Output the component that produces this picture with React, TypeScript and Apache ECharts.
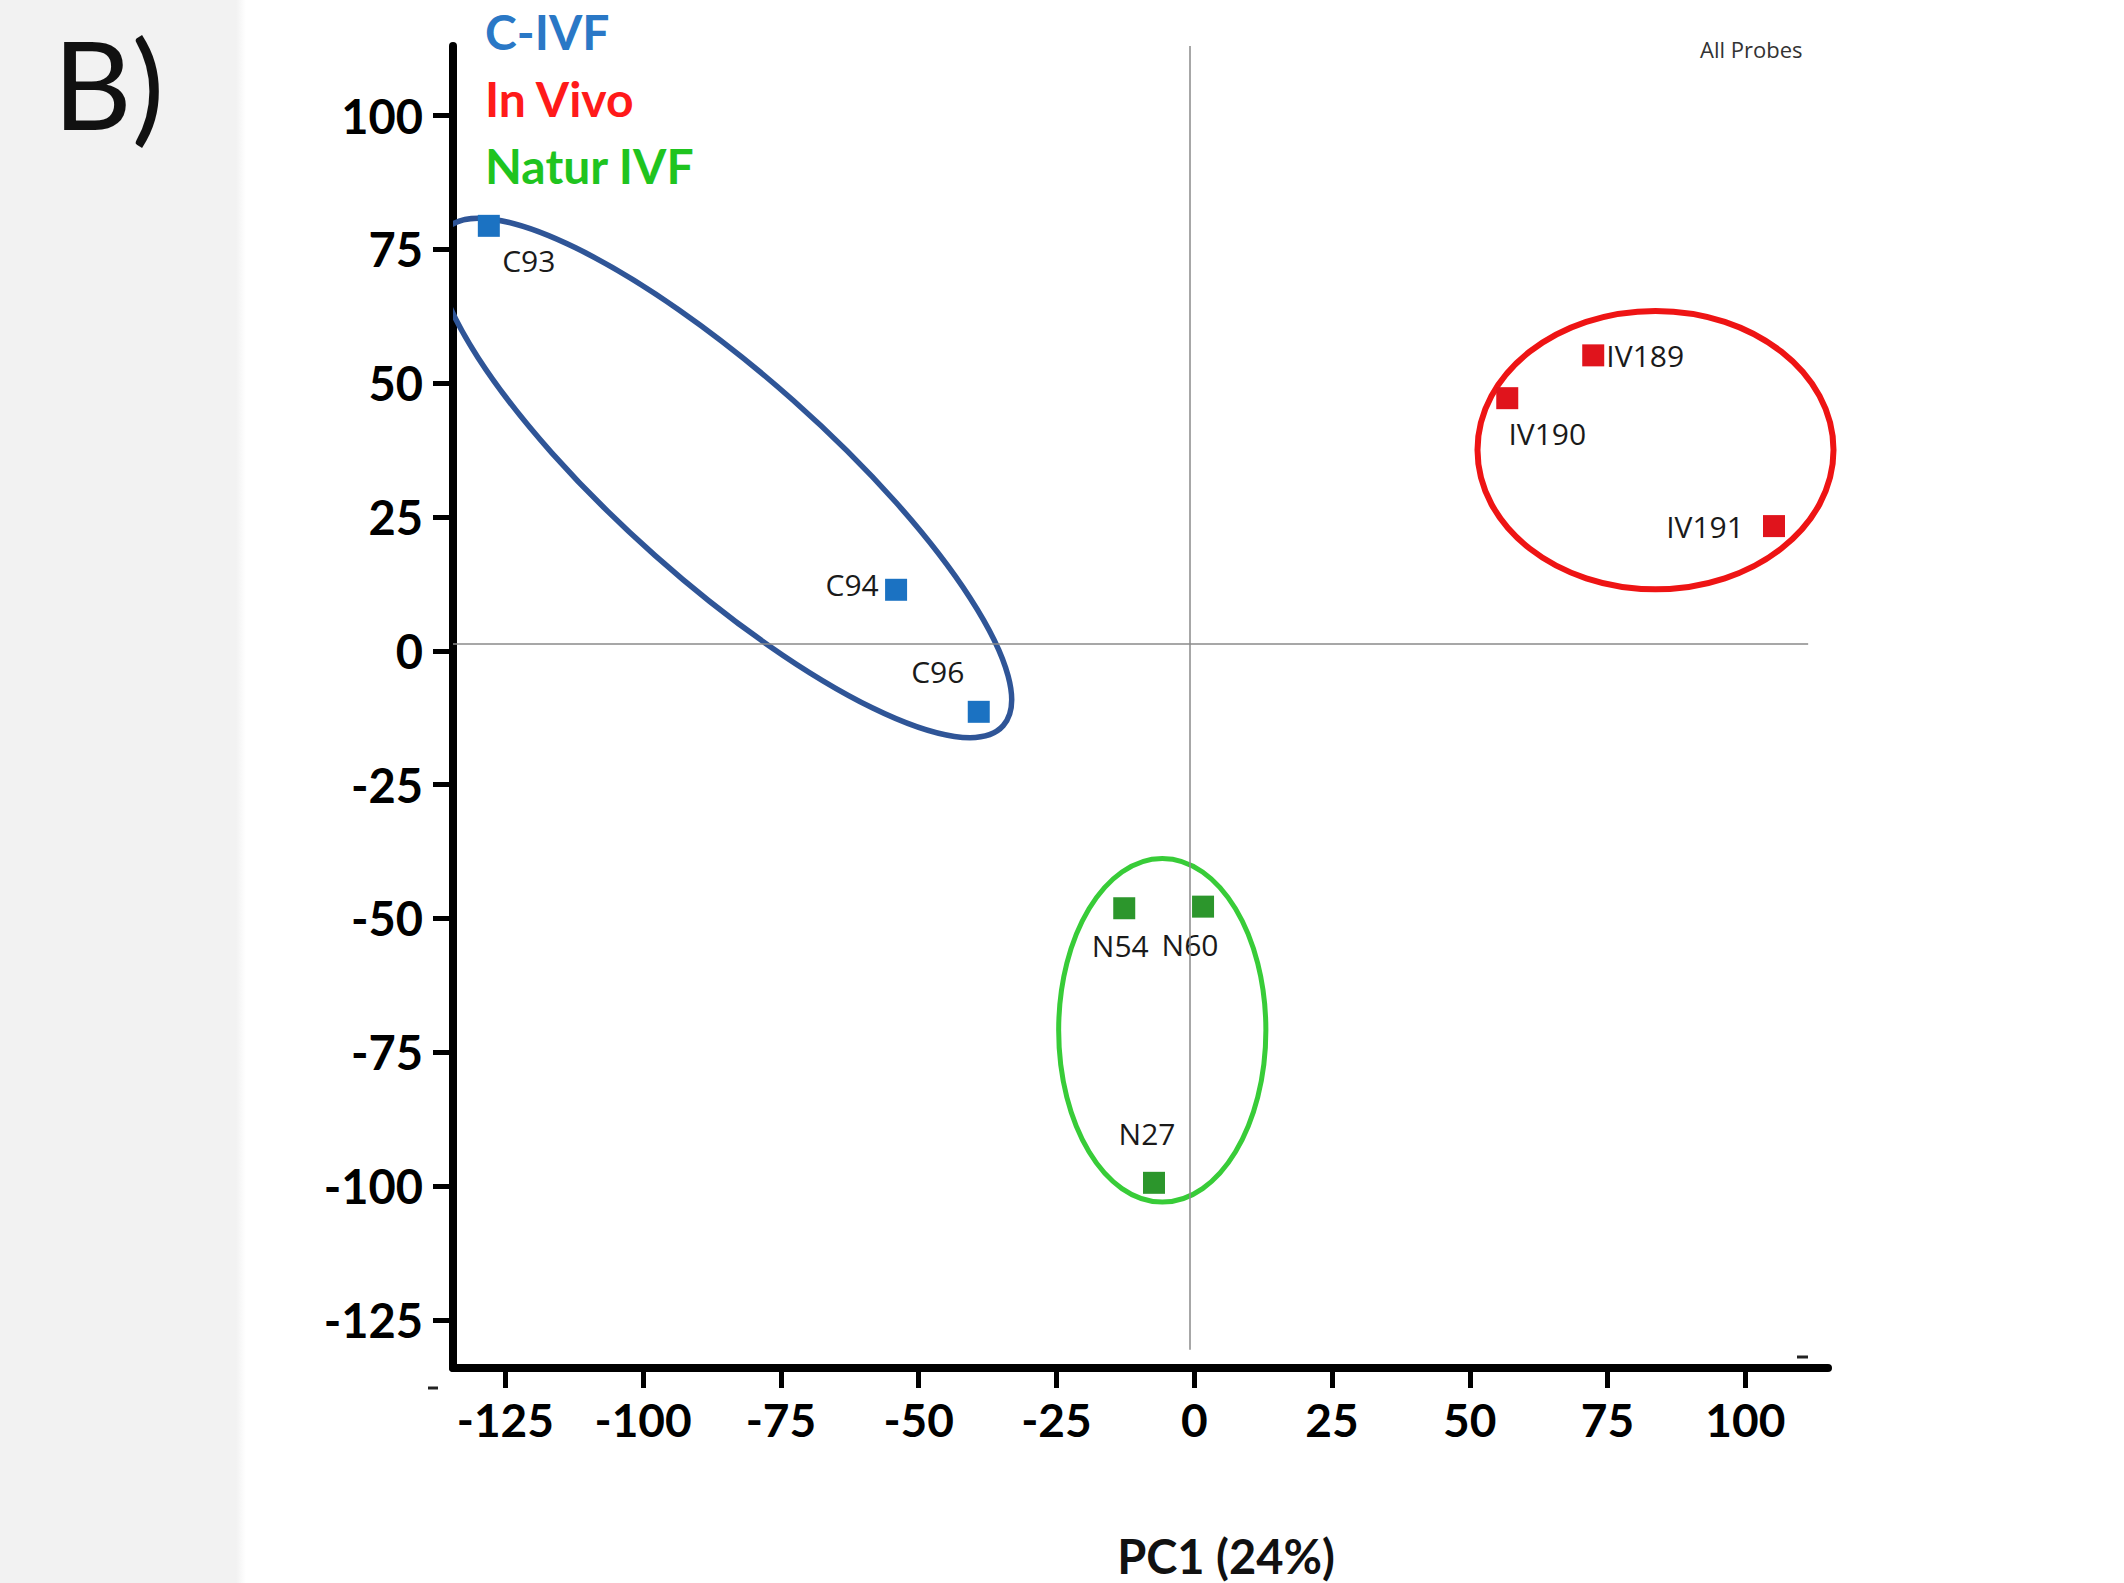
import React, { useEffect, useRef } from "react";
import * as echarts from "echarts";

// ---- data ----
const xTicks = [-125, -100, -75, -50, -25, 0, 25, 50, 75, 100];
const yTicks = [100, 75, 50, 25, 0, -25, -50, -75, -100, -125];

const civfNames = ["C93", "C94", "C96"];
const civfPC1 = [-128.0, -54.1, -39.1];
const civfPC2 = [79.4, 11.4, -11.4];

const inVivoNames = ["IV189", "IV190", "IV191"];
const inVivoPC1 = [72.4, 56.8, 105.2];
const inVivoPC2 = [55.2, 47.2, 23.3];

const naturNames = ["N54", "N60", "N27"];
const naturPC1 = [-12.7, 1.6, -7.3];
const naturPC2 = [-48.1, -47.8, -99.4];

// group ellipses (data units): centre, semi-axes, rotation (deg, counter-clockwise)
const ellipseCenterX = [-85.3, 83.7, -5.8];
const ellipseCenterY = [32.3, 37.5, -70.9];
const ellipseRadiusX = [67.7, 32.3, 18.8];
const ellipseRadiusY = [19.4, 26.0, 32.1];
const ellipseAngle = [-41.6, 0, 0];
const ellipseClipped = [true, false, false];

// origin reference lines as drawn in the figure
const originLineY = 1.3;
const originLineYExtent = [-134.5, 111.4];
const originLineX = -0.9;
const originLineXExtent = [-130.6, 113];

// ---- styles ----
const labelOffsets: Record<string, [number, number]> = {
  C93: [40, 35],
  C94: [-44, -5],
  C96: [-41, -40],
  IV189: [52, 0],
  IV190: [40, 35],
  IV191: [-69, 0],
  N54: [-4, 37],
  N60: [-13, 38],
  N27: [-7, -49],
};
const markerColors = ["#1b72c2", "#e0141c", "#2c962c"];
const legendColors = ["#2a78c6", "#ff1a1a", "#1fc41f"];
const ellipseColors = ["#2f5597", "#ee1414", "#38cc38"];
const ellipseWidths = [5.5, 6, 5];
const groupNames = ["C-IVF", "In Vivo", "Natur IVF"];

function makeSeries(idx: number, names: string[], xs: number[], ys: number[]) {
  return {
    type: "scatter",
    name: groupNames[idx],
    symbol: "rect",
    symbolSize: 22,
    z: 4,
    itemStyle: { color: markerColors[idx], opacity: 1 },
    label: {
      show: true,
      position: "inside",
      formatter: (p: any) => p.name,
      fontFamily: "Open Sans",
      fontSize: 30,
      color: "#1a1a1a",
      opacity: 1,
    },
    emphasis: { disabled: true },
    data: names.map((n, i) => ({
      name: n,
      value: [xs[i], ys[i]],
      label: { offset: labelOffsets[n] },
    })),
  };
}

function ellipseSeries(clip: boolean) {
  const rows: number[][] = [];
  ellipseCenterX.forEach((cx, i) => {
    if (ellipseClipped[i] === clip) {
      rows.push([cx, ellipseCenterY[i], ellipseRadiusX[i], ellipseRadiusY[i], ellipseAngle[i], i]);
    }
  });
  return {
    type: "custom",
    name: clip ? "ellipses-clipped" : "ellipses",
    z: 3,
    clip,
    silent: true,
    encode: { x: 0, y: 1 },
    data: rows,
    renderItem: (params: any, api: any) => {
      const i = api.value(5);
      const c = api.coord([api.value(0), api.value(1)]);
      const rx = api.size([api.value(2), 0])[0];
      const ry = api.size([0, api.value(3)])[1];
      return {
        type: "ellipse",
        x: c[0],
        y: c[1],
        rotation: (api.value(4) * Math.PI) / 180,
        shape: { cx: 0, cy: 0, rx, ry },
        style: { fill: "none", stroke: ellipseColors[i], lineWidth: ellipseWidths[i] },
      };
    },
  };
}

export default function App() {
  const ref = useRef<HTMLDivElement>(null);
  useEffect(() => {
    const chart = echarts.init(ref.current!, null, { renderer: "svg" });
    const option: any = {
      animation: false,
      backgroundColor: "transparent",
      title: {
        text: "All Probes",
        left: 1700,
        top: 38,
        padding: 0,
        textStyle: { fontFamily: "Open Sans", fontSize: 22, fontWeight: "normal", color: "#333" },
      },
      legend: {
        orient: "vertical",
        left: 480,
        top: 7,
        padding: 0,
        icon: "none",
        itemWidth: 0,
        itemGap: 19,
        selectedMode: false,
        textStyle: { fontFamily: "Lato", fontWeight: "bold", fontSize: 48 },
        data: groupNames.map((n, i) => ({ name: n, textStyle: { color: legendColors[i] } })),
      },
      grid: { left: 453, right: 296, top: 46, bottom: 215, containLabel: false },
      xAxis: {
        type: "value",
        min: -134.5,
        max: 115,
        splitLine: { show: false },
        axisLine: { show: true, onZero: false, lineStyle: { color: "#000", width: 8 } },
        axisTick: { show: true, length: 20, lineStyle: { color: "#000", width: 5 }, customValues: xTicks },
        axisLabel: {
          customValues: xTicks,
          fontFamily: "Lato",
          fontWeight: "bold",
          fontSize: 46,
          color: "#000",
          margin: 28,
        },
      },
      yAxis: {
        type: "value",
        min: -134,
        max: 113,
        splitLine: { show: false },
        axisLine: { show: true, onZero: false, lineStyle: { color: "#000", width: 8 } },
        axisTick: { show: true, length: 20, lineStyle: { color: "#000", width: 5 }, customValues: yTicks },
        axisLabel: {
          customValues: yTicks,
          fontFamily: "Lato",
          fontWeight: "bold",
          fontSize: 47,
          color: "#000",
          margin: 30,
        },
      },
      graphic: [
        {
          type: "text",
          x: 53,
          y: 83,
          style: {
            text: "B)",
            fontSize: 122,
            fontFamily: "Lato",
            fill: "#111",
            verticalAlign: "middle",
            textVerticalAlign: "middle",
          },
        },
        {
          type: "text",
          x: 1226,
          y: 1556,
          style: {
            text: "PC1 (24%)",
            fontSize: 47,
            fontWeight: "bold",
            fontFamily: "Lato",
            fill: "#111",
            align: "center",
            textAlign: "center",
            verticalAlign: "middle",
            textVerticalAlign: "middle",
          },
        },
        { type: "line", shape: { x1: 428, y1: 1388, x2: 438, y2: 1388 }, style: { stroke: "#222", lineWidth: 3 } },
        { type: "line", shape: { x1: 1797, y1: 1357, x2: 1808, y2: 1357 }, style: { stroke: "#222", lineWidth: 3 } },
      ],
      series: [
        ellipseSeries(true),
        ellipseSeries(false),
        {
          ...makeSeries(0, civfNames, civfPC1, civfPC2),
          markLine: {
            silent: true,
            symbol: "none",
            label: { show: false },
            lineStyle: { color: "#8a8a8a", width: 1.5, type: "solid", opacity: 1 },
            data: [
              [{ coord: [originLineYExtent[0], originLineY] }, { coord: [originLineYExtent[1], originLineY] }],
              [{ coord: [originLineX, originLineXExtent[0]] }, { coord: [originLineX, originLineXExtent[1]] }],
            ],
          },
        },
        makeSeries(1, inVivoNames, inVivoPC1, inVivoPC2),
        makeSeries(2, naturNames, naturPC1, naturPC2),
      ],
    };
    chart.setOption(option);
    return () => chart.dispose();
  }, []);
  return (
    <div
      ref={ref}
      style={{
        position: "absolute",
        left: 0,
        top: 0,
        width: 2124,
        height: 1583,
        background: "linear-gradient(to right, #f2f2f2 0px, #f2f2f2 236px, #ffffff 246px, #ffffff 100%)",
      }}
    />
  );
}
